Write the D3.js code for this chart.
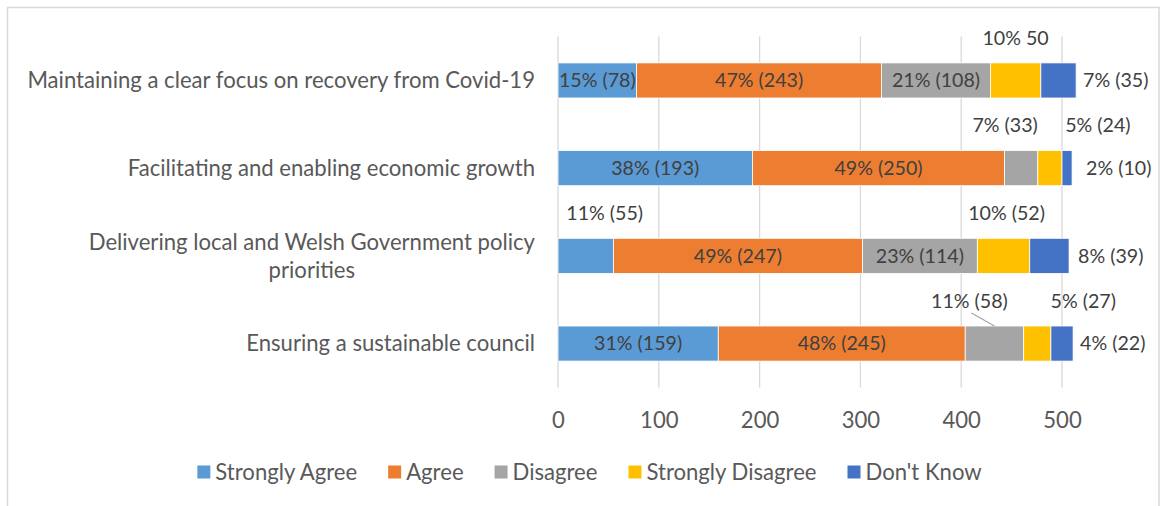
<!DOCTYPE html>
<html>
<head>
<meta charset="utf-8">
<script src="https://cdn.jsdelivr.net/npm/d3@7"></script>
<style>
  html, body { margin: 0; padding: 0; background: #fff; }
  svg { display: block; }
</style>
</head>
<body>
<svg id="chart" width="1162" height="506"></svg>
<script>
// ---------------- data ----------------
const categories = [
  "Maintaining a clear focus on recovery from Covid-19",
  "Facilitating and enabling economic growth",
  "Delivering local and Welsh Government policy priorities",
  "Ensuring a sustainable council"
];
const seriesNames = ["Strongly Agree", "Agree", "Disagree", "Strongly Disagree", "Don't Know"];
const stronglyAgree    = [78, 193, 55, 159];
const agree            = [243, 250, 247, 245];
const disagree         = [108, 33, 114, 58];
const stronglyDisagree = [50, 24, 52, 27];
const dontKnow         = [35, 10, 39, 22];

const stronglyAgreeLabels    = ["15% (78)", "38% (193)", "11% (55)", "31% (159)"];
const agreeLabels            = ["47% (243)", "49% (250)", "49% (247)", "48% (245)"];
const disagreeLabels         = ["21% (108)", "7% (33)", "23% (114)", "11% (58)"];
const stronglyDisagreeLabels = ["10% 50", "5% (24)", "10% (52)", "5% (27)"];
const dontKnowLabels         = ["7% (35)", "2% (10)", "8% (39)", "4% (22)"];

const tickValues = [0, 100, 200, 300, 400, 500];

// ---------------- styles / layout ----------------
const colors = ["#5B9BD5", "#ED7D31", "#A5A5A5", "#FFC000", "#4472C4"];
const FONT = "Lato, 'Open Sans', sans-serif";
const W = 1162, H = 506;

const valuesBySeries = [stronglyAgree, agree, disagree, stronglyDisagree, dontKnow];
const labelsBySeries = [stronglyAgreeLabels, agreeLabels, disagreeLabels, stronglyDisagreeLabels, dontKnowLabels];

// table for d3.stack
const table = categories.map((c, i) => {
  const row = { category: c };
  seriesNames.forEach((s, k) => row[s] = valuesBySeries[k][i]);
  return row;
});

// label placement (layout only): labels drawn above the bar, shifted by dx
const aboveLabels = [
  { s: 3, c: 0, dx: 0 },
  { s: 2, c: 1, dx: -16 },
  { s: 3, c: 1, dx: 48 },
  { s: 0, c: 2, dx: 19 },
  { s: 3, c: 2, dx: 3 },
  { s: 2, c: 3, dx: -25, leader: true },
  { s: 3, c: 3, dx: 46 }
];
const rightLabelGap = [7, 14, 9, 7]; // last series: label right of bar end

const svg = d3.select("#chart");

// font fitting: approximate Calibri widths with available font
const probe = svg.append("text").attr("font-family", FONT).attr("font-size", 24)
  .text(categories[0]);
const probeW = probe.node().getComputedTextLength();
probe.remove();
const k = 508 / probeW;
const FS = 24 * k;        // category, ticks, legend
const FS_LABEL = 21.3 * k; // data labels

// frame
svg.append("path")
  .attr("d", `M7.5,${H} V7.5 H1159 V${H}`)
  .attr("fill", "none").attr("stroke", "#D9D9D9").attr("stroke-width", 1.5);

const x = d3.scaleLinear().domain([0, 500]).range([558, 1062]);
const y = d3.scaleBand().domain(categories).range([36.6, 387.4])
  .paddingInner(0.6).paddingOuter(0.3);

// gridlines
svg.append("g").selectAll("line").data(tickValues).join("line")
  .attr("x1", d => x(d)).attr("x2", d => x(d))
  .attr("y1", 36.6).attr("y2", 387.4)
  .attr("stroke", "#D9D9D9").attr("stroke-width", 1.3);

// x-axis tick labels
const xAxis = d3.axisBottom(x).tickValues(tickValues).tickSize(0).tickPadding(0);
const gx = svg.append("g").attr("transform", "translate(0,420)").call(xAxis);
gx.select(".domain").remove();
gx.selectAll("text")
  .attr("y", 0).attr("dy", "0.35em")
  .attr("font-family", FONT).attr("font-size", FS).attr("fill", "#595959");

// stacked bars
const stack = d3.stack().keys(seriesNames);
const stacked = stack(table);

const gBars = svg.append("g");
stacked.forEach((layer, si) => {
  gBars.selectAll(null).data(layer).join("rect")
    .attr("x", d => x(d[0]))
    .attr("y", d => y(d.data.category))
    .attr("width", d => x(d[1]) - x(d[0]))
    .attr("height", y.bandwidth())
    .attr("fill", colors[si])
    .attr("stroke", "#fff").attr("stroke-width", 0.8);
});

// data labels
const gLab = svg.append("g").attr("font-family", FONT).attr("font-size", FS_LABEL).attr("fill", "#404040");
stacked.forEach((layer, si) => {
  layer.forEach((d, ci) => {
    const txt = labelsBySeries[si][ci];
    const segMid = (x(d[0]) + x(d[1])) / 2;
    const barTop = y(d.data.category);
    const barMid = barTop + y.bandwidth() / 2;
    const above = aboveLabels.find(a => a.s === si && a.c === ci);
    if (si === seriesNames.length - 1) {
      gLab.append("text").attr("x", x(d[1]) + rightLabelGap[ci]).attr("y", barMid)
        .attr("dy", "0.35em").attr("text-anchor", "start").text(txt);
    } else if (above) {
      const lx = segMid + above.dx, ly = barTop - 25;
      gLab.append("text").attr("x", lx).attr("y", ly)
        .attr("dy", "0.35em").attr("text-anchor", "middle").text(txt);
      if (above.leader) {
        svg.append("line")
          .attr("x1", lx + 2).attr("y1", ly + 12)
          .attr("x2", segMid).attr("y2", barTop)
          .attr("stroke", "#A6A6A6").attr("stroke-width", 1.2);
      }
    } else {
      gLab.append("text").attr("x", segMid).attr("y", barMid)
        .attr("dy", "0.35em").attr("text-anchor", "middle").text(txt);
    }
  });
});

// category labels (with wrapping of long label)
const gCat = svg.append("g").attr("font-family", FONT).attr("font-size", FS).attr("fill", "#595959");
const maxLineW = 460;
categories.forEach(c => {
  const cy = y(c) + y.bandwidth() / 2;
  const t = gCat.append("text").attr("text-anchor", "end").attr("x", 535).attr("y", cy).attr("dy", "0.35em").text(c);
  if (t.node().getComputedTextLength() > maxLineW + 60 || c.startsWith("Delivering")) {
    // wrap into two lines
    const words = c.split(" ");
    let line1 = [], rest = [];
    const tmp = gCat.append("text").attr("visibility", "hidden");
    for (let i = 0; i < words.length; i++) {
      tmp.text(line1.concat(words[i]).join(" "));
      if (rest.length === 0 && tmp.node().getComputedTextLength() <= maxLineW) line1.push(words[i]);
      else rest.push(words[i]);
    }
    tmp.remove();
    t.text(line1.join(" ")).attr("y", cy - 14);
    const w1 = t.node().getComputedTextLength();
    gCat.append("text").attr("text-anchor", "middle").attr("x", 535 - w1 / 2)
      .attr("y", cy + 14).attr("dy", "0.35em").text(rest.join(" "));
  }
});

// legend
const gLeg = svg.append("g").attr("font-family", FONT).attr("font-size", FS).attr("fill", "#595959");
const sq = 13, sqGap = 5, itemGap = 31;
const items = seriesNames.map((s, i) => {
  const g = gLeg.append("g");
  g.append("rect").attr("width", sq).attr("height", sq).attr("y", -sq / 2).attr("fill", colors[i]);
  const t = g.append("text").attr("x", sq + sqGap).attr("dy", "0.35em").text(s);
  return { g, w: sq + sqGap + t.node().getComputedTextLength() };
});
const total = d3.sum(items, d => d.w) + itemGap * (items.length - 1);
let lx = 589.5 - total / 2;
items.forEach(it => {
  it.g.attr("transform", `translate(${lx},472)`);
  lx += it.w + itemGap;
});
</script>
</body>
</html>
